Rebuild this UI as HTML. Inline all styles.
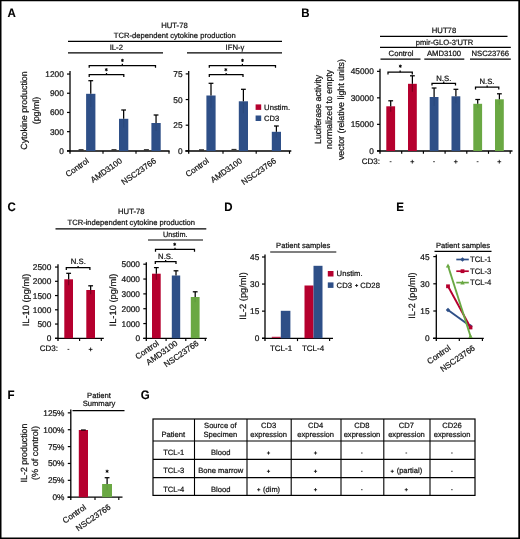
<!DOCTYPE html>
<html><head><meta charset="utf-8"><title>Figure</title>
<style>
html,body{margin:0;padding:0;background:#fff;}
body{width:520px;height:539px;overflow:hidden;position:relative;font-family:"Liberation Sans",sans-serif;}
svg{position:absolute;left:0;top:0;display:block;will-change:transform;font-family:"Liberation Sans",sans-serif;}
</style></head>
<body>
<svg width="520" height="539" viewBox="0 0 520 539" text-rendering="geometricPrecision">
<rect x="0" y="0" width="520" height="539" fill="#fff"/>
<text x="7.5" y="17.349999999999998" font-size="12.3" font-weight="bold" textLength="8.30" lengthAdjust="spacingAndGlyphs" fill="#000" stroke="#000" stroke-width="0.12">A</text>
<text x="301.2" y="17.349999999999998" font-size="12.3" font-weight="bold" textLength="8.30" lengthAdjust="spacingAndGlyphs" fill="#000" stroke="#000" stroke-width="0.12">B</text>
<text x="7.5" y="211.15" font-size="12.3" font-weight="bold" textLength="8.30" lengthAdjust="spacingAndGlyphs" fill="#000" stroke="#000" stroke-width="0.12">C</text>
<text x="224.2" y="211.15" font-size="12.3" font-weight="bold" textLength="8.30" lengthAdjust="spacingAndGlyphs" fill="#000" stroke="#000" stroke-width="0.12">D</text>
<text x="396.2" y="211.15" font-size="12.3" font-weight="bold" textLength="7.67" lengthAdjust="spacingAndGlyphs" fill="#000" stroke="#000" stroke-width="0.12">E</text>
<text x="7.5" y="398.95" font-size="12.3" font-weight="bold" textLength="7.03" lengthAdjust="spacingAndGlyphs" fill="#000" stroke="#000" stroke-width="0.12">F</text>
<text x="140.7" y="398.95" font-size="12.3" font-weight="bold" textLength="8.95" lengthAdjust="spacingAndGlyphs" fill="#000" stroke="#000" stroke-width="0.12">G</text>
<text x="174.5" y="27.5" font-size="7.7" text-anchor="middle" fill="#111" stroke="#111" stroke-width="0.22">HUT-78</text>
<text x="174.8" y="38" font-size="7.65" text-anchor="middle" textLength="122" lengthAdjust="spacingAndGlyphs" fill="#111" stroke="#111" stroke-width="0.22">TCR-dependent cytokine production</text>
<line x1="68" y1="41.3" x2="282" y2="41.3" stroke="#000" stroke-width="1.2" />
<text x="116.3" y="50" font-size="7.7" text-anchor="middle" fill="#111" stroke="#111" stroke-width="0.22">IL-2</text>
<text x="235" y="50" font-size="7.7" text-anchor="middle" fill="#111" stroke="#111" stroke-width="0.22">IFN-γ</text>
<line x1="68" y1="52.8" x2="163" y2="52.8" stroke="#000" stroke-width="1.2" />
<line x1="187" y1="52.8" x2="282" y2="52.8" stroke="#000" stroke-width="1.2" />
<text x="27.3" y="110.5" font-size="8.9" text-anchor="middle" transform="rotate(-90 27.3 110.5)" textLength="78.5" lengthAdjust="spacingAndGlyphs" fill="#111" stroke="#111" stroke-width="0.22">Cytokine production</text>
<text x="38.7" y="110.5" font-size="8.9" text-anchor="middle" transform="rotate(-90 38.7 110.5)" fill="#111" stroke="#111" stroke-width="0.22">(pg/ml)</text>
<line x1="70" y1="71" x2="70" y2="153.7" stroke="#000" stroke-width="1.3" />
<line x1="67" y1="150.85" x2="70" y2="150.85" stroke="#000" stroke-width="1.2" />
<text x="63.8" y="153.838" font-size="8.3" text-anchor="end" fill="#111" stroke="#111" stroke-width="0.22">0</text>
<line x1="67" y1="131.65" x2="70" y2="131.65" stroke="#000" stroke-width="1.2" />
<text x="63.8" y="134.638" font-size="8.3" text-anchor="end" fill="#111" stroke="#111" stroke-width="0.22">300</text>
<line x1="67" y1="112.44999999999999" x2="70" y2="112.44999999999999" stroke="#000" stroke-width="1.2" />
<text x="63.8" y="115.43799999999999" font-size="8.3" text-anchor="end" fill="#111" stroke="#111" stroke-width="0.22">600</text>
<line x1="67" y1="93.25" x2="70" y2="93.25" stroke="#000" stroke-width="1.2" />
<text x="63.8" y="96.238" font-size="8.3" text-anchor="end" fill="#111" stroke="#111" stroke-width="0.22">900</text>
<line x1="67" y1="74.05" x2="70" y2="74.05" stroke="#000" stroke-width="1.2" />
<text x="63.8" y="77.038" font-size="8.3" text-anchor="end" fill="#111" stroke="#111" stroke-width="0.22">1200</text>
<line x1="67" y1="151.0" x2="169.6" y2="151.0" stroke="#000" stroke-width="1.3" />
<line x1="103" y1="151.0" x2="103" y2="153.8" stroke="#000" stroke-width="1.15" />
<line x1="136" y1="151.0" x2="136" y2="153.8" stroke="#000" stroke-width="1.15" />
<line x1="169" y1="151.0" x2="169" y2="153.8" stroke="#000" stroke-width="1.15" />
<rect x="86.1" y="93.8" width="9.3" height="57.2" fill="#2E4F87"/>
<line x1="90.75" y1="80.7" x2="90.75" y2="93.8" stroke="#000" stroke-width="1.25" />
<line x1="90.75" y1="93.8" x2="90.75" y2="106.89999999999999" stroke="#000" stroke-width="1.25" opacity="0.07"/>
<line x1="88.35" y1="80.7" x2="93.15" y2="80.7" stroke="#000" stroke-width="1.25" />
<line x1="78.6" y1="149.7" x2="83.6" y2="149.7" stroke="#000" stroke-width="0.9" />
<rect x="119.0" y="118.8" width="9.3" height="32.2" fill="#2E4F87"/>
<line x1="123.65" y1="110" x2="123.65" y2="118.8" stroke="#000" stroke-width="1.25" />
<line x1="123.65" y1="118.8" x2="123.65" y2="127.6" stroke="#000" stroke-width="1.25" opacity="0.07"/>
<line x1="121.25" y1="110" x2="126.05000000000001" y2="110" stroke="#000" stroke-width="1.25" />
<line x1="111.5" y1="149.7" x2="116.5" y2="149.7" stroke="#000" stroke-width="0.9" />
<rect x="151.4" y="123" width="9.3" height="28.0" fill="#2E4F87"/>
<line x1="156.05" y1="115" x2="156.05" y2="123.0" stroke="#000" stroke-width="1.25" />
<line x1="156.05" y1="123.0" x2="156.05" y2="131" stroke="#000" stroke-width="1.25" opacity="0.07"/>
<line x1="153.65" y1="115" x2="158.45000000000002" y2="115" stroke="#000" stroke-width="1.25" />
<line x1="143.9" y1="149.7" x2="148.9" y2="149.7" stroke="#000" stroke-width="0.9" />
<path d="M89.2 67.8V65.5H155.5V67.8" fill="none" stroke="#000" stroke-width="1.25"/>
<line x1="122.35" y1="65.5" x2="122.35" y2="63.8" stroke="#000" stroke-width="1.25" />
<path d="M122.40 59.20L122.40 61.60M121.36 59.80L123.44 61.00M123.44 59.80L121.36 61.00" stroke="#000" stroke-width="0.95" fill="none" stroke-linecap="round"/>
<path d="M89.2 77.0V74.7H123.8V77.0" fill="none" stroke="#000" stroke-width="1.25"/>
<line x1="106.5" y1="74.7" x2="106.5" y2="73.0" stroke="#000" stroke-width="1.25" />
<path d="M106.30 68.50L106.30 70.90M105.26 69.10L107.34 70.30M107.34 69.10L105.26 70.30" stroke="#000" stroke-width="0.95" fill="none" stroke-linecap="round"/>
<text x="89.6" y="162.2" font-size="8.2" text-anchor="end" transform="rotate(-35 89.6 162.2)" fill="#111" stroke="#111" stroke-width="0.22">Control</text>
<text x="122.8" y="162.2" font-size="8.2" text-anchor="end" transform="rotate(-35 122.8 162.2)" fill="#111" stroke="#111" stroke-width="0.22">AMD3100</text>
<text x="156.7" y="162.2" font-size="8.2" text-anchor="end" transform="rotate(-35 156.7 162.2)" fill="#111" stroke="#111" stroke-width="0.22">NSC23766</text>
<line x1="188.7" y1="71" x2="188.7" y2="153.7" stroke="#000" stroke-width="1.3" />
<line x1="185.7" y1="150.85" x2="188.7" y2="150.85" stroke="#000" stroke-width="1.2" />
<text x="182.5" y="153.838" font-size="8.3" text-anchor="end" fill="#111" stroke="#111" stroke-width="0.22">0</text>
<line x1="185.7" y1="125.19999999999999" x2="188.7" y2="125.19999999999999" stroke="#000" stroke-width="1.2" />
<text x="182.5" y="128.188" font-size="8.3" text-anchor="end" fill="#111" stroke="#111" stroke-width="0.22">25</text>
<line x1="185.7" y1="99.55" x2="188.7" y2="99.55" stroke="#000" stroke-width="1.2" />
<text x="182.5" y="102.538" font-size="8.3" text-anchor="end" fill="#111" stroke="#111" stroke-width="0.22">50</text>
<line x1="185.7" y1="73.9" x2="188.7" y2="73.9" stroke="#000" stroke-width="1.2" />
<text x="182.5" y="76.888" font-size="8.3" text-anchor="end" fill="#111" stroke="#111" stroke-width="0.22">75</text>
<line x1="185.3" y1="151.0" x2="291.3" y2="151.0" stroke="#000" stroke-width="1.3" />
<line x1="223" y1="151.0" x2="223" y2="153.8" stroke="#000" stroke-width="1.15" />
<line x1="256.2" y1="151.0" x2="256.2" y2="153.8" stroke="#000" stroke-width="1.15" />
<line x1="289.5" y1="151.0" x2="289.5" y2="153.8" stroke="#000" stroke-width="1.15" />
<rect x="206.4" y="95.5" width="9.2" height="55.5" fill="#2E4F87"/>
<line x1="211.0" y1="83.3" x2="211.0" y2="95.5" stroke="#000" stroke-width="1.25" />
<line x1="211.0" y1="95.5" x2="211.0" y2="107.7" stroke="#000" stroke-width="1.25" opacity="0.07"/>
<line x1="208.6" y1="83.3" x2="213.4" y2="83.3" stroke="#000" stroke-width="1.25" />
<rect x="238.8" y="101.3" width="9.2" height="49.7" fill="#2E4F87"/>
<line x1="243.4" y1="89.3" x2="243.4" y2="101.3" stroke="#000" stroke-width="1.25" />
<line x1="243.4" y1="101.3" x2="243.4" y2="113.3" stroke="#000" stroke-width="1.25" opacity="0.07"/>
<line x1="241.0" y1="89.3" x2="245.8" y2="89.3" stroke="#000" stroke-width="1.25" />
<rect x="271.8" y="131.8" width="9.2" height="19.2" fill="#2E4F87"/>
<line x1="276.40000000000003" y1="126" x2="276.40000000000003" y2="131.8" stroke="#000" stroke-width="1.25" />
<line x1="276.40000000000003" y1="131.8" x2="276.40000000000003" y2="137.60000000000002" stroke="#000" stroke-width="1.25" opacity="0.07"/>
<line x1="274.00000000000006" y1="126" x2="278.8" y2="126" stroke="#000" stroke-width="1.25" />
<line x1="199" y1="149.8" x2="204" y2="149.8" stroke="#000" stroke-width="0.9" />
<line x1="231.5" y1="149.4" x2="236.5" y2="149.4" stroke="#000" stroke-width="0.9" />
<path d="M209.3 67.8V65.5H275.5V67.8" fill="none" stroke="#000" stroke-width="1.25"/>
<line x1="242.4" y1="65.5" x2="242.4" y2="63.8" stroke="#000" stroke-width="1.25" />
<path d="M242.50 59.20L242.50 61.60M241.46 59.80L243.54 61.00M243.54 59.80L241.46 61.00" stroke="#000" stroke-width="0.95" fill="none" stroke-linecap="round"/>
<path d="M209.3 77.0V74.7H243V77.0" fill="none" stroke="#000" stroke-width="1.25"/>
<line x1="226.15" y1="74.7" x2="226.15" y2="73.0" stroke="#000" stroke-width="1.25" />
<path d="M225.80 68.50L225.80 70.90M224.76 69.10L226.84 70.30M226.84 69.10L224.76 70.30" stroke="#000" stroke-width="0.95" fill="none" stroke-linecap="round"/>
<text x="209.6" y="162.2" font-size="8.2" text-anchor="end" transform="rotate(-35 209.6 162.2)" fill="#111" stroke="#111" stroke-width="0.22">Control</text>
<text x="242.8" y="162.2" font-size="8.2" text-anchor="end" transform="rotate(-35 242.8 162.2)" fill="#111" stroke="#111" stroke-width="0.22">AMD3100</text>
<text x="276.7" y="162.2" font-size="8.2" text-anchor="end" transform="rotate(-35 276.7 162.2)" fill="#111" stroke="#111" stroke-width="0.22">NSC23766</text>
<rect x="255.6" y="104.4" width="5.6" height="5.5" fill="#B5002E"/>
<text x="264.1" y="109.7" font-size="7.6" text-anchor="start" textLength="26" lengthAdjust="spacingAndGlyphs" fill="#111" stroke="#111" stroke-width="0.22">Unstim.</text>
<rect x="255.6" y="115.5" width="5.6" height="5.5" fill="#2E4F87"/>
<text x="264.1" y="120.7" font-size="7.6" text-anchor="start" fill="#111" stroke="#111" stroke-width="0.22">CD3</text>
<text x="444" y="32.5" font-size="7.7" text-anchor="middle" fill="#111" stroke="#111" stroke-width="0.22">HUT78</text>
<line x1="380" y1="36.3" x2="507.5" y2="36.3" stroke="#000" stroke-width="1.2" />
<text x="444.5" y="44.6" font-size="7.7" text-anchor="middle" textLength="57.5" lengthAdjust="spacingAndGlyphs" fill="#111" stroke="#111" stroke-width="0.22">pmir-GLO-3’UTR</text>
<line x1="380" y1="47.4" x2="510.8" y2="47.4" stroke="#000" stroke-width="1.2" />
<text x="401" y="55.6" font-size="7.7" text-anchor="middle" fill="#111" stroke="#111" stroke-width="0.22">Control</text>
<text x="444" y="55.6" font-size="7.7" text-anchor="middle" fill="#111" stroke="#111" stroke-width="0.22">AMD3100</text>
<text x="490.3" y="55.6" font-size="7.7" text-anchor="middle" fill="#111" stroke="#111" stroke-width="0.22">NSC23766</text>
<line x1="380.5" y1="59.1" x2="420.5" y2="59.1" stroke="#000" stroke-width="1.2" />
<line x1="424.3" y1="59.1" x2="464.3" y2="59.1" stroke="#000" stroke-width="1.2" />
<line x1="470" y1="59.1" x2="510.8" y2="59.1" stroke="#000" stroke-width="1.2" />
<text x="321.1" y="109.4" font-size="8.9" text-anchor="middle" transform="rotate(-90 321.1 109.4)" textLength="69" lengthAdjust="spacingAndGlyphs" fill="#111" stroke="#111" stroke-width="0.22">Luciferase activity</text>
<text x="332.5" y="109.4" font-size="8.9" text-anchor="middle" transform="rotate(-90 332.5 109.4)" textLength="79" lengthAdjust="spacingAndGlyphs" fill="#111" stroke="#111" stroke-width="0.22">normalized to empty</text>
<text x="344.4" y="109.6" font-size="8.9" text-anchor="middle" transform="rotate(-90 344.4 109.6)" textLength="101" lengthAdjust="spacingAndGlyphs" fill="#111" stroke="#111" stroke-width="0.22">vector (relative light units)</text>
<line x1="380" y1="68.8" x2="380" y2="153.7" stroke="#000" stroke-width="1.3" />
<line x1="377" y1="150.85" x2="380" y2="150.85" stroke="#000" stroke-width="1.2" />
<text x="373.8" y="153.838" font-size="8.3" text-anchor="end" fill="#111" stroke="#111" stroke-width="0.22">0</text>
<line x1="377" y1="124.35" x2="380" y2="124.35" stroke="#000" stroke-width="1.2" />
<text x="373.8" y="127.338" font-size="8.3" text-anchor="end" fill="#111" stroke="#111" stroke-width="0.22">15000</text>
<line x1="377" y1="97.85" x2="380" y2="97.85" stroke="#000" stroke-width="1.2" />
<text x="373.8" y="100.838" font-size="8.3" text-anchor="end" fill="#111" stroke="#111" stroke-width="0.22">30000</text>
<line x1="377" y1="71.35" x2="380" y2="71.35" stroke="#000" stroke-width="1.2" />
<text x="373.8" y="74.338" font-size="8.3" text-anchor="end" fill="#111" stroke="#111" stroke-width="0.22">45000</text>
<line x1="377" y1="151.0" x2="512.5" y2="151.0" stroke="#000" stroke-width="1.3" />
<line x1="401.7" y1="151.0" x2="401.7" y2="153.8" stroke="#000" stroke-width="1.15" />
<line x1="423.4" y1="151.0" x2="423.4" y2="153.8" stroke="#000" stroke-width="1.15" />
<line x1="445.1" y1="151.0" x2="445.1" y2="153.8" stroke="#000" stroke-width="1.15" />
<line x1="466.8" y1="151.0" x2="466.8" y2="153.8" stroke="#000" stroke-width="1.15" />
<line x1="488.5" y1="151.0" x2="488.5" y2="153.8" stroke="#000" stroke-width="1.15" />
<line x1="510.2" y1="151.0" x2="510.2" y2="153.8" stroke="#000" stroke-width="1.15" />
<rect x="386.3" y="106.3" width="8.8" height="44.7" fill="#B5002E"/>
<line x1="390.7" y1="100.8" x2="390.7" y2="106.3" stroke="#000" stroke-width="1.25" />
<line x1="390.7" y1="106.3" x2="390.7" y2="111.8" stroke="#000" stroke-width="1.25" opacity="0.3"/>
<line x1="388.3" y1="100.8" x2="393.09999999999997" y2="100.8" stroke="#000" stroke-width="1.25" />
<rect x="408" y="83.8" width="8.8" height="67.2" fill="#B5002E"/>
<line x1="412.4" y1="75.8" x2="412.4" y2="83.8" stroke="#000" stroke-width="1.25" />
<line x1="412.4" y1="83.8" x2="412.4" y2="91.8" stroke="#000" stroke-width="1.25" opacity="0.3"/>
<line x1="410.0" y1="75.8" x2="414.79999999999995" y2="75.8" stroke="#000" stroke-width="1.25" />
<rect x="429.7" y="97" width="8.8" height="54.0" fill="#2E4F87"/>
<line x1="434.09999999999997" y1="88" x2="434.09999999999997" y2="97.0" stroke="#000" stroke-width="1.25" />
<line x1="434.09999999999997" y1="97.0" x2="434.09999999999997" y2="106" stroke="#000" stroke-width="1.25" opacity="0.07"/>
<line x1="431.7" y1="88" x2="436.49999999999994" y2="88" stroke="#000" stroke-width="1.25" />
<rect x="451.5" y="96.3" width="8.8" height="54.7" fill="#2E4F87"/>
<line x1="455.9" y1="89.3" x2="455.9" y2="96.3" stroke="#000" stroke-width="1.25" />
<line x1="455.9" y1="96.3" x2="455.9" y2="103.3" stroke="#000" stroke-width="1.25" opacity="0.07"/>
<line x1="453.5" y1="89.3" x2="458.29999999999995" y2="89.3" stroke="#000" stroke-width="1.25" />
<rect x="473.3" y="103.8" width="8.8" height="47.2" fill="#6AA843"/>
<line x1="477.7" y1="99.5" x2="477.7" y2="103.8" stroke="#000" stroke-width="1.25" />
<line x1="477.7" y1="103.8" x2="477.7" y2="108.1" stroke="#000" stroke-width="1.25" opacity="0.07"/>
<line x1="475.3" y1="99.5" x2="480.09999999999997" y2="99.5" stroke="#000" stroke-width="1.25" />
<rect x="495" y="99.3" width="8.8" height="51.7" fill="#6AA843"/>
<line x1="499.4" y1="93.8" x2="499.4" y2="99.3" stroke="#000" stroke-width="1.25" />
<line x1="499.4" y1="99.3" x2="499.4" y2="104.8" stroke="#000" stroke-width="1.25" opacity="0.07"/>
<line x1="497.0" y1="93.8" x2="501.79999999999995" y2="93.8" stroke="#000" stroke-width="1.25" />
<path d="M388 74.5V72.2H412.3V74.5" fill="none" stroke="#000" stroke-width="1.25"/>
<line x1="400.15" y1="72.2" x2="400.15" y2="70.5" stroke="#000" stroke-width="1.25" />
<path d="M400.30 65.00L400.30 67.40M399.26 65.60L401.34 66.80M401.34 65.60L399.26 66.80" stroke="#000" stroke-width="0.95" fill="none" stroke-linecap="round"/>
<path d="M432 85.6V83.3H455.5V85.6" fill="none" stroke="#000" stroke-width="1.25"/>
<line x1="443.75" y1="83.3" x2="443.75" y2="81.6" stroke="#000" stroke-width="1.25" />
<text x="443.8" y="80.5" font-size="7.7" text-anchor="middle" fill="#111" stroke="#111" stroke-width="0.22">N.S.</text>
<path d="M475.5 89.5V87.2H498.8V89.5" fill="none" stroke="#000" stroke-width="1.25"/>
<line x1="487.15" y1="87.2" x2="487.15" y2="85.5" stroke="#000" stroke-width="1.25" />
<text x="487" y="84.4" font-size="7.7" text-anchor="middle" fill="#111" stroke="#111" stroke-width="0.22">N.S.</text>
<text x="380" y="164" font-size="8.0" text-anchor="end" fill="#111" stroke="#111" stroke-width="0.22">CD3:</text>
<path d="M389.70000000000005 161.7H391.5" stroke="#111" stroke-width="0.8" fill="none"/>
<path d="M410.40000000000003 161.7H414.2M412.3 159.79999999999998V163.6" stroke="#111" stroke-width="0.85" fill="none"/>
<path d="M433.1 161.7H434.9" stroke="#111" stroke-width="0.8" fill="none"/>
<path d="M453.90000000000003 161.7H457.7M455.8 159.79999999999998V163.6" stroke="#111" stroke-width="0.85" fill="none"/>
<path d="M476.70000000000005 161.7H478.5" stroke="#111" stroke-width="0.8" fill="none"/>
<path d="M497.40000000000003 161.7H501.2M499.3 159.79999999999998V163.6" stroke="#111" stroke-width="0.85" fill="none"/>
<text x="131.3" y="214.0" font-size="7.7" text-anchor="middle" fill="#111" stroke="#111" stroke-width="0.22">HUT-78</text>
<text x="131.3" y="225" font-size="7.65" text-anchor="middle" textLength="127.5" lengthAdjust="spacingAndGlyphs" fill="#111" stroke="#111" stroke-width="0.22">TCR-independent cytokine production</text>
<line x1="55.5" y1="228.8" x2="206.3" y2="228.8" stroke="#000" stroke-width="1.2" />
<text x="175.2" y="236.8" font-size="7.6" text-anchor="middle" textLength="24.6" lengthAdjust="spacingAndGlyphs" fill="#111" stroke="#111" stroke-width="0.22">Unstim.</text>
<line x1="148" y1="240" x2="203" y2="240" stroke="#000" stroke-width="1.2" />
<text x="28.6" y="300" font-size="9.2" text-anchor="middle" transform="rotate(-90 28.6 300)" textLength="52.5" lengthAdjust="spacingAndGlyphs" fill="#111" stroke="#111" stroke-width="0.22">IL-10 (pg/ml)</text>
<line x1="58" y1="264.3" x2="58" y2="341.0" stroke="#000" stroke-width="1.3" />
<line x1="55" y1="338.3" x2="58" y2="338.3" stroke="#000" stroke-width="1.2" />
<text x="51.3" y="341.288" font-size="8.3" text-anchor="end" fill="#111" stroke="#111" stroke-width="0.22">0</text>
<line x1="55" y1="324.05" x2="58" y2="324.05" stroke="#000" stroke-width="1.2" />
<text x="51.3" y="327.038" font-size="8.3" text-anchor="end" fill="#111" stroke="#111" stroke-width="0.22">500</text>
<line x1="55" y1="309.8" x2="58" y2="309.8" stroke="#000" stroke-width="1.2" />
<text x="51.3" y="312.788" font-size="8.3" text-anchor="end" fill="#111" stroke="#111" stroke-width="0.22">1000</text>
<line x1="55" y1="295.55" x2="58" y2="295.55" stroke="#000" stroke-width="1.2" />
<text x="51.3" y="298.538" font-size="8.3" text-anchor="end" fill="#111" stroke="#111" stroke-width="0.22">1500</text>
<line x1="55" y1="281.3" x2="58" y2="281.3" stroke="#000" stroke-width="1.2" />
<text x="51.3" y="284.288" font-size="8.3" text-anchor="end" fill="#111" stroke="#111" stroke-width="0.22">2000</text>
<line x1="55" y1="267.05" x2="58" y2="267.05" stroke="#000" stroke-width="1.2" />
<text x="51.3" y="270.038" font-size="8.3" text-anchor="end" fill="#111" stroke="#111" stroke-width="0.22">2500</text>
<line x1="55" y1="338.3" x2="103.8" y2="338.3" stroke="#000" stroke-width="1.3" />
<line x1="79.6" y1="338.3" x2="79.6" y2="341.1" stroke="#000" stroke-width="1.15" />
<line x1="101.3" y1="338.3" x2="101.3" y2="341.1" stroke="#000" stroke-width="1.15" />
<rect x="64.3" y="279.3" width="8.7" height="59.0" fill="#B5002E"/>
<line x1="68.65" y1="273.3" x2="68.65" y2="279.3" stroke="#000" stroke-width="1.25" />
<line x1="68.65" y1="279.3" x2="68.65" y2="285.3" stroke="#000" stroke-width="1.25" opacity="0.3"/>
<line x1="66.25" y1="273.3" x2="71.05000000000001" y2="273.3" stroke="#000" stroke-width="1.25" />
<rect x="86.3" y="290" width="8.7" height="48.3" fill="#B5002E"/>
<line x1="90.65" y1="285.8" x2="90.65" y2="290.0" stroke="#000" stroke-width="1.25" />
<line x1="90.65" y1="290.0" x2="90.65" y2="294.2" stroke="#000" stroke-width="1.25" opacity="0.3"/>
<line x1="88.25" y1="285.8" x2="93.05000000000001" y2="285.8" stroke="#000" stroke-width="1.25" />
<path d="M66.3 269.90000000000003V267.6H89.9V269.90000000000003" fill="none" stroke="#000" stroke-width="1.25"/>
<line x1="78.1" y1="267.6" x2="78.1" y2="265.90000000000003" stroke="#000" stroke-width="1.25" />
<text x="78.3" y="264.1" font-size="7.7" text-anchor="middle" fill="#111" stroke="#111" stroke-width="0.22">N.S.</text>
<text x="58" y="351.3" font-size="8.0" text-anchor="end" fill="#111" stroke="#111" stroke-width="0.22">CD3:</text>
<path d="M67.5 349.4H69.30000000000001" stroke="#111" stroke-width="0.8" fill="none"/>
<path d="M88.69999999999999 349.4H92.5M90.6 347.5V351.29999999999995" stroke="#111" stroke-width="0.85" fill="none"/>
<text x="115.6" y="300" font-size="9.2" text-anchor="middle" transform="rotate(-90 115.6 300)" textLength="52.8" lengthAdjust="spacingAndGlyphs" fill="#111" stroke="#111" stroke-width="0.22">IL-10 (pg/ml)</text>
<line x1="146.3" y1="262.3" x2="146.3" y2="341.0" stroke="#000" stroke-width="1.3" />
<line x1="143.3" y1="338.40000000000003" x2="146.3" y2="338.40000000000003" stroke="#000" stroke-width="1.2" />
<text x="140" y="341.38800000000003" font-size="8.3" text-anchor="end" fill="#111" stroke="#111" stroke-width="0.22">0</text>
<line x1="143.3" y1="323.56000000000006" x2="146.3" y2="323.56000000000006" stroke="#000" stroke-width="1.2" />
<text x="140" y="326.54800000000006" font-size="8.3" text-anchor="end" fill="#111" stroke="#111" stroke-width="0.22">1000</text>
<line x1="143.3" y1="308.72" x2="146.3" y2="308.72" stroke="#000" stroke-width="1.2" />
<text x="140" y="311.708" font-size="8.3" text-anchor="end" fill="#111" stroke="#111" stroke-width="0.22">2000</text>
<line x1="143.3" y1="293.88000000000005" x2="146.3" y2="293.88000000000005" stroke="#000" stroke-width="1.2" />
<text x="140" y="296.86800000000005" font-size="8.3" text-anchor="end" fill="#111" stroke="#111" stroke-width="0.22">3000</text>
<line x1="143.3" y1="279.04" x2="146.3" y2="279.04" stroke="#000" stroke-width="1.2" />
<text x="140" y="282.028" font-size="8.3" text-anchor="end" fill="#111" stroke="#111" stroke-width="0.22">4000</text>
<line x1="143.3" y1="264.20000000000005" x2="146.3" y2="264.20000000000005" stroke="#000" stroke-width="1.2" />
<text x="140" y="267.18800000000005" font-size="8.3" text-anchor="end" fill="#111" stroke="#111" stroke-width="0.22">5000</text>
<line x1="143.3" y1="338.3" x2="206.8" y2="338.3" stroke="#000" stroke-width="1.3" />
<line x1="166.1" y1="338.3" x2="166.1" y2="341.1" stroke="#000" stroke-width="1.15" />
<line x1="185.8" y1="338.3" x2="185.8" y2="341.1" stroke="#000" stroke-width="1.15" />
<line x1="205.3" y1="338.3" x2="205.3" y2="341.1" stroke="#000" stroke-width="1.15" />
<rect x="152" y="273.7" width="8.7" height="64.6" fill="#B5002E"/>
<line x1="156.35" y1="267.6" x2="156.35" y2="273.70000000000005" stroke="#000" stroke-width="1.25" />
<line x1="156.35" y1="273.70000000000005" x2="156.35" y2="279.8" stroke="#000" stroke-width="1.25" opacity="0.3"/>
<line x1="153.95" y1="267.6" x2="158.75" y2="267.6" stroke="#000" stroke-width="1.25" />
<rect x="171.8" y="275.5" width="8.4" height="62.8" fill="#2E4F87"/>
<line x1="176" y1="270.8" x2="176" y2="275.5" stroke="#000" stroke-width="1.25" />
<line x1="176" y1="275.5" x2="176" y2="280.2" stroke="#000" stroke-width="1.25" opacity="0.07"/>
<line x1="173.6" y1="270.8" x2="178.4" y2="270.8" stroke="#000" stroke-width="1.25" />
<rect x="190.8" y="297" width="8.8" height="41.3" fill="#6AA843"/>
<line x1="195.2" y1="291.8" x2="195.2" y2="297.0" stroke="#000" stroke-width="1.25" />
<line x1="195.2" y1="297.0" x2="195.2" y2="302.2" stroke="#000" stroke-width="1.25" opacity="0.07"/>
<line x1="192.79999999999998" y1="291.8" x2="197.6" y2="291.8" stroke="#000" stroke-width="1.25" />
<path d="M155.5 251.70000000000002V249.4H194.5V251.70000000000002" fill="none" stroke="#000" stroke-width="1.25"/>
<line x1="175.0" y1="249.4" x2="175.0" y2="247.70000000000002" stroke="#000" stroke-width="1.25" />
<path d="M174.70 243.10L174.70 245.50M173.66 243.70L175.74 244.90M175.74 243.70L173.66 244.90" stroke="#000" stroke-width="0.95" fill="none" stroke-linecap="round"/>
<path d="M155.3 263.90000000000003V261.6H176V263.90000000000003" fill="none" stroke="#000" stroke-width="1.25"/>
<line x1="165.65" y1="261.6" x2="165.65" y2="259.90000000000003" stroke="#000" stroke-width="1.25" />
<text x="165.6" y="258.6" font-size="7.7" text-anchor="middle" fill="#111" stroke="#111" stroke-width="0.22">N.S.</text>
<text x="159.4" y="344.6" font-size="8.2" text-anchor="end" transform="rotate(-35 159.4 344.6)" fill="#111" stroke="#111" stroke-width="0.22">Control</text>
<text x="178.3" y="344.6" font-size="8.2" text-anchor="end" transform="rotate(-35 178.3 344.6)" fill="#111" stroke="#111" stroke-width="0.22">AMD3100</text>
<text x="199.2" y="344.6" font-size="8.2" text-anchor="end" transform="rotate(-35 199.2 344.6)" fill="#111" stroke="#111" stroke-width="0.22">NSC23766</text>
<text x="303.2" y="248.2" font-size="7.65" text-anchor="middle" textLength="54.2" lengthAdjust="spacingAndGlyphs" fill="#111" stroke="#111" stroke-width="0.22">Patient samples</text>
<line x1="270.2" y1="252" x2="336.3" y2="252" stroke="#000" stroke-width="1.2" />
<text x="245.6" y="296" font-size="9.2" text-anchor="middle" transform="rotate(-90 245.6 296)" textLength="47.5" lengthAdjust="spacingAndGlyphs" fill="#111" stroke="#111" stroke-width="0.22">IL-2 (pg/ml)</text>
<line x1="265" y1="254.5" x2="265" y2="341.0" stroke="#000" stroke-width="1.3" />
<line x1="262" y1="338.2" x2="265" y2="338.2" stroke="#000" stroke-width="1.2" />
<text x="259.3" y="341.188" font-size="8.3" text-anchor="end" fill="#111" stroke="#111" stroke-width="0.22">0</text>
<line x1="262" y1="311.13" x2="265" y2="311.13" stroke="#000" stroke-width="1.2" />
<text x="259.3" y="314.118" font-size="8.3" text-anchor="end" fill="#111" stroke="#111" stroke-width="0.22">15</text>
<line x1="262" y1="284.06" x2="265" y2="284.06" stroke="#000" stroke-width="1.2" />
<text x="259.3" y="287.048" font-size="8.3" text-anchor="end" fill="#111" stroke="#111" stroke-width="0.22">30</text>
<line x1="262" y1="256.99" x2="265" y2="256.99" stroke="#000" stroke-width="1.2" />
<text x="259.3" y="259.978" font-size="8.3" text-anchor="end" fill="#111" stroke="#111" stroke-width="0.22">45</text>
<line x1="262" y1="338.3" x2="333" y2="338.3" stroke="#000" stroke-width="1.3" />
<line x1="297.5" y1="338.3" x2="297.5" y2="341.1" stroke="#000" stroke-width="1.15" />
<line x1="329.6" y1="338.3" x2="329.6" y2="341.1" stroke="#000" stroke-width="1.15" />
<line x1="271.8" y1="337.3" x2="280.8" y2="337.3" stroke="#B5002E" stroke-width="1.0" />
<rect x="280.8" y="310.8" width="9.6" height="27.5" fill="#2E4F87"/>
<rect x="304.5" y="285.5" width="9.0" height="52.8" fill="#B5002E"/>
<rect x="313.5" y="265.8" width="9.0" height="72.5" fill="#2E4F87"/>
<text x="281" y="351.3" font-size="8.0" text-anchor="middle" fill="#111" stroke="#111" stroke-width="0.22">TCL-1</text>
<text x="313" y="351.3" font-size="8.0" text-anchor="middle" fill="#111" stroke="#111" stroke-width="0.22">TCL-4</text>
<rect x="327.8" y="271" width="5.7" height="5.5" fill="#B5002E"/>
<text x="336.6" y="276.3" font-size="7.6" text-anchor="start" textLength="26" lengthAdjust="spacingAndGlyphs" fill="#111" stroke="#111" stroke-width="0.22">Unstim.</text>
<rect x="327.8" y="282.4" width="5.7" height="5.5" fill="#2E4F87"/>
<text x="336.6" y="288" font-size="7.6" text-anchor="start" textLength="15.4" lengthAdjust="spacingAndGlyphs" fill="#111" stroke="#111" stroke-width="0.22">CD3</text>
<path d="M355.1 285.5H358.1M356.6 284.0V287.0" stroke="#111" stroke-width="0.85" fill="none"/>
<text x="360.3" y="288" font-size="7.6" text-anchor="start" textLength="19.6" lengthAdjust="spacingAndGlyphs" fill="#111" stroke="#111" stroke-width="0.22">CD28</text>
<text x="463" y="248.2" font-size="7.65" text-anchor="middle" textLength="54.2" lengthAdjust="spacingAndGlyphs" fill="#111" stroke="#111" stroke-width="0.22">Patient samples</text>
<line x1="434.5" y1="251.3" x2="491.5" y2="251.3" stroke="#000" stroke-width="1.2" />
<text x="415.4" y="295.6" font-size="9.2" text-anchor="middle" transform="rotate(-90 415.4 295.6)" textLength="46.5" lengthAdjust="spacingAndGlyphs" fill="#111" stroke="#111" stroke-width="0.22">IL-2 (pg/ml)</text>
<line x1="436.3" y1="254.4" x2="436.3" y2="341.0" stroke="#000" stroke-width="1.3" />
<line x1="433.3" y1="338.2" x2="436.3" y2="338.2" stroke="#000" stroke-width="1.2" />
<text x="429.6" y="341.188" font-size="8.3" text-anchor="end" fill="#111" stroke="#111" stroke-width="0.22">0</text>
<line x1="433.3" y1="311.0" x2="436.3" y2="311.0" stroke="#000" stroke-width="1.2" />
<text x="429.6" y="313.988" font-size="8.3" text-anchor="end" fill="#111" stroke="#111" stroke-width="0.22">15</text>
<line x1="433.3" y1="283.8" x2="436.3" y2="283.8" stroke="#000" stroke-width="1.2" />
<text x="429.6" y="286.788" font-size="8.3" text-anchor="end" fill="#111" stroke="#111" stroke-width="0.22">30</text>
<line x1="433.3" y1="256.6" x2="436.3" y2="256.6" stroke="#000" stroke-width="1.2" />
<text x="429.6" y="259.588" font-size="8.3" text-anchor="end" fill="#111" stroke="#111" stroke-width="0.22">45</text>
<line x1="433" y1="338.3" x2="483.8" y2="338.3" stroke="#000" stroke-width="1.3" />
<line x1="459.3" y1="338.3" x2="459.3" y2="341.1" stroke="#000" stroke-width="1.15" />
<line x1="482.4" y1="338.3" x2="482.4" y2="341.1" stroke="#000" stroke-width="1.15" />
<line x1="448" y1="310" x2="470.5" y2="326.3" stroke="#2E4F87" stroke-width="1.9" />
<path d="M445.8 310L448 307.8L450.2 310L448 312.2Z" fill="#2E4F87"/>
<path d="M468.3 326.3L470.5 324.1L472.7 326.3L470.5 328.5Z" fill="#2E4F87"/>
<line x1="448" y1="286.3" x2="470.5" y2="327.5" stroke="#B5002E" stroke-width="1.9" />
<rect x="446.1" y="284.40000000000003" width="3.8" height="3.8" fill="#B5002E"/>
<rect x="468.6" y="325.6" width="3.8" height="3.8" fill="#B5002E"/>
<line x1="448" y1="265.8" x2="470.5" y2="336.3" stroke="#6AA843" stroke-width="1.9" />
<path d="M445.8 267.6L448 263.40000000000003L450.2 267.6Z" fill="#6AA843"/>
<path d="M468.3 338.1L470.5 333.90000000000003L472.7 338.1Z" fill="#6AA843"/>
<line x1="456.3" y1="259.5" x2="468.8" y2="259.5" stroke="#2E4F87" stroke-width="1.7" />
<path d="M460.3 259.5L462.5 257.3L464.7 259.5L462.5 261.7Z" fill="#2E4F87"/>
<text x="470" y="262.1" font-size="8.0" text-anchor="start" textLength="21.3" lengthAdjust="spacingAndGlyphs" fill="#111" stroke="#111" stroke-width="0.22">TCL-1</text>
<line x1="456.3" y1="271.2" x2="468.8" y2="271.2" stroke="#B5002E" stroke-width="1.7" />
<rect x="460.6" y="269.3" width="3.8" height="3.8" fill="#B5002E"/>
<text x="470" y="273.8" font-size="8.0" text-anchor="start" textLength="21.3" lengthAdjust="spacingAndGlyphs" fill="#111" stroke="#111" stroke-width="0.22">TCL-3</text>
<line x1="456.3" y1="282.6" x2="468.8" y2="282.6" stroke="#6AA843" stroke-width="1.7" />
<path d="M460.3 284.40000000000003L462.5 280.20000000000005L464.7 284.40000000000003Z" fill="#6AA843"/>
<text x="470" y="285.20000000000005" font-size="8.0" text-anchor="start" textLength="21.3" lengthAdjust="spacingAndGlyphs" fill="#111" stroke="#111" stroke-width="0.22">TCL-4</text>
<text x="451.2" y="349.3" font-size="8.2" text-anchor="end" transform="rotate(-35 451.2 349.3)" fill="#111" stroke="#111" stroke-width="0.22">Control</text>
<text x="475.6" y="349.3" font-size="8.2" text-anchor="end" transform="rotate(-35 475.6 349.3)" fill="#111" stroke="#111" stroke-width="0.22">NSC23766</text>
<text x="99" y="398" font-size="7.65" text-anchor="middle" fill="#111" stroke="#111" stroke-width="0.22">Patient</text>
<text x="99" y="406.3" font-size="7.65" text-anchor="middle" fill="#111" stroke="#111" stroke-width="0.22">Summary</text>
<line x1="72.5" y1="410.6" x2="124.5" y2="410.6" stroke="#000" stroke-width="1.2" />
<text x="27.2" y="453" font-size="8.9" text-anchor="middle" transform="rotate(-90 27.2 453)" textLength="58.8" lengthAdjust="spacingAndGlyphs" fill="#111" stroke="#111" stroke-width="0.22">IL-2 production</text>
<text x="38.2" y="453" font-size="8.9" text-anchor="middle" transform="rotate(-90 38.2 453)" textLength="53.8" lengthAdjust="spacingAndGlyphs" fill="#111" stroke="#111" stroke-width="0.22">(% of control)</text>
<line x1="70.8" y1="409.5" x2="70.8" y2="499.9" stroke="#000" stroke-width="1.3" />
<line x1="67.8" y1="497.2" x2="70.8" y2="497.2" stroke="#000" stroke-width="1.2" />
<text x="64.5" y="500.188" font-size="8.3" text-anchor="end" fill="#111" stroke="#111" stroke-width="0.22">0%</text>
<line x1="67.8" y1="480.33" x2="70.8" y2="480.33" stroke="#000" stroke-width="1.2" />
<text x="64.5" y="483.318" font-size="8.3" text-anchor="end" fill="#111" stroke="#111" stroke-width="0.22">25%</text>
<line x1="67.8" y1="463.46" x2="70.8" y2="463.46" stroke="#000" stroke-width="1.2" />
<text x="64.5" y="466.448" font-size="8.3" text-anchor="end" fill="#111" stroke="#111" stroke-width="0.22">50%</text>
<line x1="67.8" y1="446.59" x2="70.8" y2="446.59" stroke="#000" stroke-width="1.2" />
<text x="64.5" y="449.578" font-size="8.3" text-anchor="end" fill="#111" stroke="#111" stroke-width="0.22">75%</text>
<line x1="67.8" y1="429.71999999999997" x2="70.8" y2="429.71999999999997" stroke="#000" stroke-width="1.2" />
<text x="64.5" y="432.70799999999997" font-size="8.3" text-anchor="end" fill="#111" stroke="#111" stroke-width="0.22">100%</text>
<line x1="67.8" y1="412.84999999999997" x2="70.8" y2="412.84999999999997" stroke="#000" stroke-width="1.2" />
<text x="64.5" y="415.83799999999997" font-size="8.3" text-anchor="end" fill="#111" stroke="#111" stroke-width="0.22">125%</text>
<line x1="67.5" y1="497.2" x2="122.5" y2="497.2" stroke="#000" stroke-width="1.3" />
<line x1="95" y1="497.2" x2="95" y2="500.0" stroke="#000" stroke-width="1.15" />
<line x1="118.8" y1="497.2" x2="118.8" y2="500.0" stroke="#000" stroke-width="1.15" />
<rect x="78.8" y="430" width="9.2" height="67.2" fill="#B5002E"/>
<line x1="81" y1="430" x2="85.8" y2="430" stroke="#000" stroke-width="1.2" />
<rect x="102.1" y="484" width="9.9" height="13.2" fill="#6AA843"/>
<line x1="107.1" y1="477.7" x2="107.1" y2="484.0" stroke="#000" stroke-width="1.25" />
<line x1="107.1" y1="484.0" x2="107.1" y2="490.3" stroke="#000" stroke-width="1.25" opacity="0.07"/>
<line x1="104.69999999999999" y1="477.7" x2="109.5" y2="477.7" stroke="#000" stroke-width="1.25" />
<path d="M107.10 470.10L107.10 472.50M106.06 470.70L108.14 471.90M108.14 470.70L106.06 471.90" stroke="#000" stroke-width="0.95" fill="none" stroke-linecap="round"/>
<text x="86.7" y="508.6" font-size="8.2" text-anchor="end" transform="rotate(-35 86.7 508.6)" fill="#111" stroke="#111" stroke-width="0.22">Control</text>
<text x="111.2" y="508.4" font-size="8.2" text-anchor="end" transform="rotate(-35 111.2 508.4)" fill="#111" stroke="#111" stroke-width="0.22">NSC23766</text>
<rect x="153" y="419" width="322" height="76.39999999999998" fill="none" stroke="#000" stroke-width="1.2"/>
<line x1="194.5" y1="419" x2="194.5" y2="495.4" stroke="#000" stroke-width="1.1" />
<line x1="247" y1="419" x2="247" y2="495.4" stroke="#000" stroke-width="1.1" />
<line x1="291.2" y1="419" x2="291.2" y2="495.4" stroke="#000" stroke-width="1.1" />
<line x1="341" y1="419" x2="341" y2="495.4" stroke="#000" stroke-width="1.1" />
<line x1="383.8" y1="419" x2="383.8" y2="495.4" stroke="#000" stroke-width="1.1" />
<line x1="430" y1="419" x2="430" y2="495.4" stroke="#000" stroke-width="1.1" />
<line x1="153" y1="441" x2="475" y2="441" stroke="#000" stroke-width="1.1" />
<line x1="153" y1="459.4" x2="475" y2="459.4" stroke="#000" stroke-width="1.1" />
<line x1="153" y1="477.6" x2="475" y2="477.6" stroke="#000" stroke-width="1.1" />
<text x="173.25" y="437.4" font-size="7.6" text-anchor="middle" fill="#111" stroke="#111" stroke-width="0.22">Patient</text>
<text x="220.35" y="428" font-size="7.6" text-anchor="middle" fill="#111" stroke="#111" stroke-width="0.22">Source of</text>
<text x="220.35" y="437.4" font-size="7.6" text-anchor="middle" fill="#111" stroke="#111" stroke-width="0.22">Specimen</text>
<text x="268.6" y="428" font-size="7.6" text-anchor="middle" fill="#111" stroke="#111" stroke-width="0.22">CD3</text>
<text x="268.70000000000005" y="437.3" font-size="7.6" text-anchor="middle" textLength="36.7" lengthAdjust="spacingAndGlyphs" fill="#111" stroke="#111" stroke-width="0.22">expression</text>
<text x="315.6" y="428" font-size="7.6" text-anchor="middle" fill="#111" stroke="#111" stroke-width="0.22">CD4</text>
<text x="315.70000000000005" y="437.3" font-size="7.6" text-anchor="middle" textLength="36.7" lengthAdjust="spacingAndGlyphs" fill="#111" stroke="#111" stroke-width="0.22">expression</text>
<text x="361.9" y="428" font-size="7.6" text-anchor="middle" fill="#111" stroke="#111" stroke-width="0.22">CD8</text>
<text x="362.0" y="437.3" font-size="7.6" text-anchor="middle" textLength="36.7" lengthAdjust="spacingAndGlyphs" fill="#111" stroke="#111" stroke-width="0.22">expression</text>
<text x="406.4" y="428" font-size="7.6" text-anchor="middle" fill="#111" stroke="#111" stroke-width="0.22">CD7</text>
<text x="406.5" y="437.3" font-size="7.6" text-anchor="middle" textLength="36.7" lengthAdjust="spacingAndGlyphs" fill="#111" stroke="#111" stroke-width="0.22">expression</text>
<text x="452.0" y="428" font-size="7.6" text-anchor="middle" fill="#111" stroke="#111" stroke-width="0.22">CD26</text>
<text x="452.1" y="437.3" font-size="7.6" text-anchor="middle" textLength="36.7" lengthAdjust="spacingAndGlyphs" fill="#111" stroke="#111" stroke-width="0.22">expression</text>
<text x="173.75" y="454.5" font-size="7.6" text-anchor="middle" fill="#111" stroke="#111" stroke-width="0.22">TCL-1</text>
<text x="220.75" y="454.5" font-size="7.6" text-anchor="middle" fill="#111" stroke="#111" stroke-width="0.22">Blood</text>
<path d="M266.9 453H270.1M268.5 451.4V454.6" stroke="#111" stroke-width="0.85" fill="none"/>
<path d="M313.9 453H317.1M315.5 451.4V454.6" stroke="#111" stroke-width="0.85" fill="none"/>
<path d="M360.99999999999994 453H362.59999999999997" stroke="#111" stroke-width="0.8" fill="none"/>
<path d="M405.49999999999994 453H407.09999999999997" stroke="#111" stroke-width="0.8" fill="none"/>
<path d="M451.09999999999997 453H452.7" stroke="#111" stroke-width="0.8" fill="none"/>
<text x="173.75" y="473.1" font-size="7.6" text-anchor="middle" fill="#111" stroke="#111" stroke-width="0.22">TCL-3</text>
<text x="220.75" y="473.1" font-size="7.6" text-anchor="middle" fill="#111" stroke="#111" stroke-width="0.22">Bone marrow</text>
<path d="M266.9 471.3H270.1M268.5 469.7V472.90000000000003" stroke="#111" stroke-width="0.85" fill="none"/>
<path d="M313.9 471.3H317.1M315.5 469.7V472.90000000000003" stroke="#111" stroke-width="0.85" fill="none"/>
<path d="M360.99999999999994 471.3H362.59999999999997" stroke="#111" stroke-width="0.8" fill="none"/>
<path d="M390.65 471.3H393.85M392.25 469.7V472.90000000000003" stroke="#111" stroke-width="0.85" fill="none"/>
<text x="396.65" y="473.1" font-size="7.6" text-anchor="start" textLength="25.5" lengthAdjust="spacingAndGlyphs" fill="#111" stroke="#111" stroke-width="0.22">(partial)</text>
<path d="M451.09999999999997 471.3H452.7" stroke="#111" stroke-width="0.8" fill="none"/>
<text x="173.75" y="491.9" font-size="7.6" text-anchor="middle" fill="#111" stroke="#111" stroke-width="0.22">TCL-4</text>
<text x="220.75" y="491.9" font-size="7.6" text-anchor="middle" fill="#111" stroke="#111" stroke-width="0.22">Blood</text>
<path d="M257.1 489.7H260.30000000000007M258.70000000000005 488.09999999999997V491.3" stroke="#111" stroke-width="0.85" fill="none"/>
<text x="263.1" y="491.9" font-size="7.6" text-anchor="start" textLength="17.0" lengthAdjust="spacingAndGlyphs" fill="#111" stroke="#111" stroke-width="0.22">(dim)</text>
<path d="M313.9 489.7H317.1M315.5 488.09999999999997V491.3" stroke="#111" stroke-width="0.85" fill="none"/>
<path d="M360.99999999999994 489.7H362.59999999999997" stroke="#111" stroke-width="0.8" fill="none"/>
<path d="M404.69999999999993 489.7H407.9M406.29999999999995 488.09999999999997V491.3" stroke="#111" stroke-width="0.85" fill="none"/>
<path d="M451.09999999999997 489.7H452.7" stroke="#111" stroke-width="0.8" fill="none"/>
<path d="M0 0H520V539H0ZM1.5 1.35V537.4H518.3V1.35Z" fill="#000" fill-rule="evenodd"/>
</svg>
</body></html>
